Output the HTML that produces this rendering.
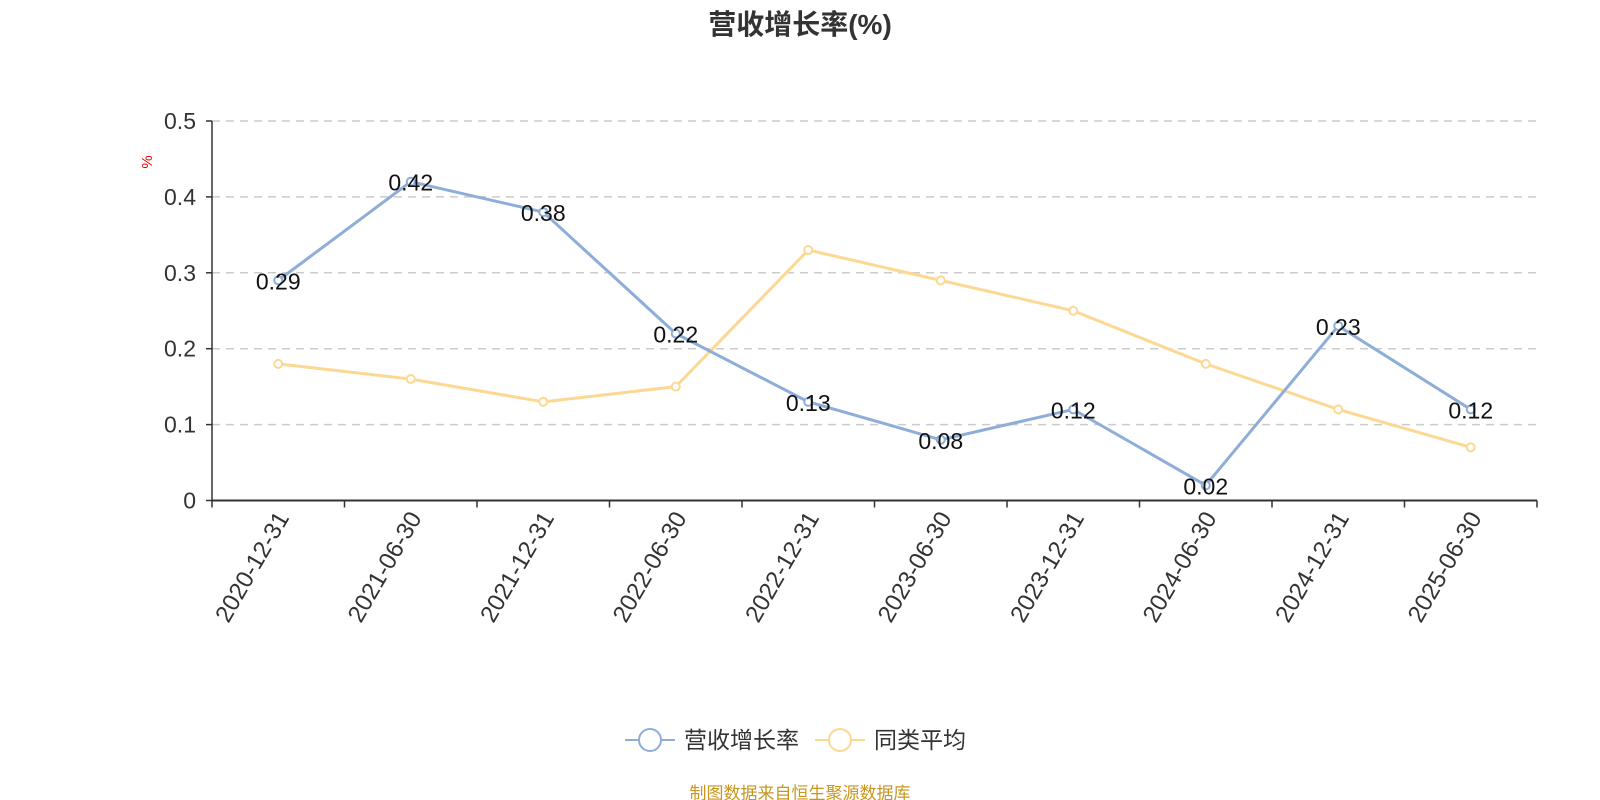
<!DOCTYPE html>
<html><head><meta charset="utf-8"><style>
html,body{margin:0;padding:0;background:#fff;}
svg{display:block;font-family:"Liberation Sans","Noto Sans CJK SC",sans-serif;}
</style></head><body>
<svg width="1600" height="800" viewBox="0 0 1600 800">
<text x="800" y="34" text-anchor="middle" font-size="28" font-weight="bold" fill="#333">营收增长率(%)</text>
<text transform="translate(152,162) rotate(-90)" text-anchor="middle" font-size="15" fill="#e00">%</text>
<g id="grid"></g>
<g id="axes"></g>
<g id="series"></g>
<g>
<g>
<line x1="625" y1="740" x2="675" y2="740" stroke="#8eadd8" stroke-width="2"/>
<circle cx="650" cy="740" r="11" fill="#fff" stroke="#8eadd8" stroke-width="2"/>
<text x="684" y="748" font-size="23" fill="#333">营收增长率</text></g>
<g>
<line x1="815" y1="740" x2="865" y2="740" stroke="#fcd893" stroke-width="2"/>
<circle cx="840" cy="740" r="11" fill="#fff" stroke="#fcd893" stroke-width="2"/>
<text x="874" y="748" font-size="23" fill="#333">同类平均</text></g>
</g>
<text x="800" y="799" text-anchor="middle" font-size="17" fill="#c8961e">制图数据来自恒生聚源数据库</text>
<script>
const categories=["2020-12-31","2021-06-30","2021-12-31","2022-06-30","2022-12-31","2023-06-30","2023-12-31","2024-06-30","2024-12-31","2025-06-30"];
const revenueGrowth=[0.29,0.42,0.38,0.22,0.13,0.08,0.12,0.02,0.23,0.12];
const peerAverage=[0.18,0.16,0.13,0.15,0.33,0.29,0.25,0.18,0.12,0.07];
const yTicks=[0,0.1,0.2,0.3,0.4,0.5];
const yTickLabels=["0","0.1","0.2","0.3","0.4","0.5"];
const NS="http://www.w3.org/2000/svg";
const L=212,R=1537,T=121,B=500.5,YMAX=0.5;
const bw=(R-L)/categories.length;
function xs(i){return L+bw*(i+0.5);}
function ys(v){return B-(v/YMAX)*(B-T);}
function mk(tag,attrs,parent){const e=document.createElementNS(NS,tag);for(const k in attrs)e.setAttribute(k,attrs[k]);parent.appendChild(e);return e;}
const grid=document.getElementById('grid'),axes=document.getElementById('axes'),ser=document.getElementById('series');
yTicks.forEach((v,i)=>{
  if(v>0){const g=mk('line',{x1:L,x2:R,y1:ys(v),y2:ys(v),stroke:'#ccc','stroke-width':1.5,'stroke-dasharray':'8,6'},grid);
  
  }
  const tk=mk('line',{x1:L-6,x2:L,y1:ys(v),y2:ys(v),stroke:'#333','stroke-width':1.5},axes);
  
  
  const t=mk('text',{x:L-16,y:ys(v)+8,'text-anchor':'end','font-size':23,fill:'#333'},axes);
  
  
  t.textContent=yTickLabels[i];
});
let a=mk('line',{x1:L,x2:L,y1:T,y2:B,stroke:'#333','stroke-width':1.5},axes);


a=mk('line',{x1:L,x2:R,y1:B,y2:B,stroke:'#333','stroke-width':2},axes);


for(let i=0;i<=categories.length;i++){
  const tk=mk('line',{x1:L+bw*i,x2:L+bw*i,y1:B,y2:B+7,stroke:'#333','stroke-width':1.5},axes);
  
  
}
categories.forEach((c,i)=>{
  const t=mk('text',{transform:`translate(${xs(i)+6},${B+14}) rotate(-60)`,'text-anchor':'end','font-size':24,fill:'#333','dominant-baseline':'middle'},axes);
  
  
  t.textContent=c;
});
function drawSeries(vals,color,name,labels){
  const pts=vals.map((v,i)=>xs(i)+','+ys(v)).join(' ');
  const p=mk('polyline',{points:pts,fill:'none',stroke:color,'stroke-width':3},ser);
  
  
  vals.forEach((v,i)=>{
    const c=mk('circle',{cx:xs(i),cy:ys(v),r:4,fill:'#fff',stroke:color,'stroke-width':2},ser);
    
    
  });
  if(labels){vals.forEach((v,i)=>{
    const t=mk('text',{x:xs(i),y:ys(v)+9,'text-anchor':'middle','font-size':23,fill:'#111'},ser);
    
    
    t.textContent=String(v);
  });}
}
drawSeries(peerAverage,'#fcd893','peer-average',false);
drawSeries(revenueGrowth,'#8eadd8','revenue-growth',true);
</script>
</svg>
</body></html>
